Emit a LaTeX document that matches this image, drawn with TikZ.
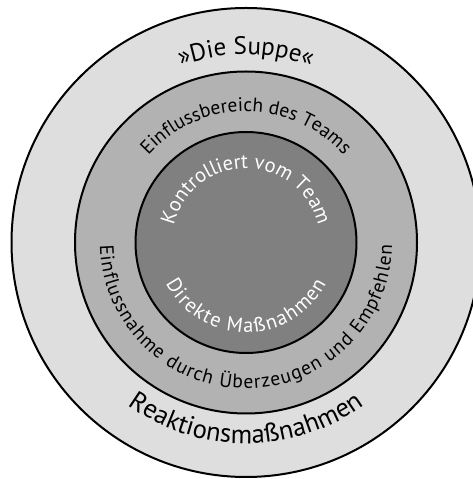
\documentclass[tikz,border=0pt]{standalone}
\usepackage{fontspec}
\setmainfont{PT Sans}
\usetikzlibrary{calc,decorations.text}

\definecolor{suppe}{HTML}{DEDEDE}
\definecolor{einfluss}{HTML}{B2B2B2}
\definecolor{kontrolle}{HTML}{808080}

\newcommand{\suppefont}{\fontsize{25}{30}\selectfont}
\newcommand{\reaktionfont}{\fontsize{26.5}{30}\selectfont}
\newcommand{\einflussfont}{\fontsize{19.5}{22}\selectfont}
\newcommand{\kontrollfont}{\fontsize{20.5}{24}\selectfont\color{white}}

\tikzset{
	ring/.style={draw=black, line width=2pt},
	ring label/.style={decorate, decoration={text along path, text align=center, text={#1}}},
	ring fit label/.style={decorate, decoration={text along path, text align=fit to path, text={#1}}},
}

\begin{document}
\begin{tikzpicture}[x=1pt,y=1pt]
	\useasboundingbox (0,0) rectangle (473,479);
	\clip (0,0) rectangle (473,479);
	\coordinate (c) at (246,236.5);
	% the three rings
	\draw[ring, fill=suppe] (c) circle (234.5);
	\draw[ring, fill=einfluss] (c) circle (171);
	\draw[ring, fill=kontrolle] (c) circle (110.5);
	% outer ring
	\path[ring label={|\suppefont|»Die Suppe«}] ($(c)+(170:188)$) arc[start angle=170, end angle=10, radius=188];
	\path[ring label={|\reaktionfont|Reaktionsmaßnahmen}] ($(c)+(190:201)$) arc[start angle=190, end angle=350, radius=201];
	% middle ring
	\path[ring label={|\einflussfont|Einflussbereich des Teams}] ($(c)+(175:131)$) arc[start angle=175, end angle=5, radius=131];
	\path[ring fit label={|\einflussfont|Einflussnahme durch Überzeugen und Empfehlen}] ($(c)+(181:146)$) arc[start angle=181, end angle=359, radius=146];
	% inner circle
	\path[ring label={|\kontrollfont|Kontrolliert vom Team}] ($(c)+(178:74)$) arc[start angle=178, end angle=2, radius=74];
	\path[ring fit label={|\kontrollfont|Direkte Maßnahmen}] ($(c)+(207:90)$) arc[start angle=207, end angle=333, radius=90];
\end{tikzpicture}
\end{document}
